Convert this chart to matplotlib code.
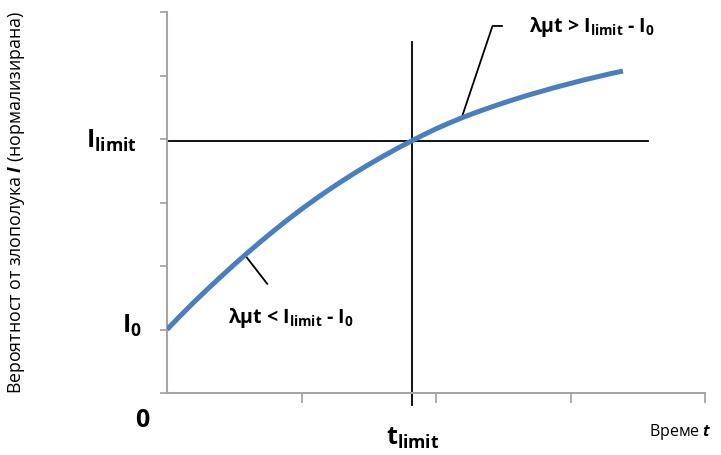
import matplotlib
matplotlib.use('Agg')
import matplotlib.pyplot as plt

# * Data
# curve sampled every 0.1 time units (x ticks = 1 unit, y ticks = 1 unit)
t_pts = [0.0, 0.1, 0.2, 0.3, 0.4, 0.5, 0.6, 0.7, 0.8, 0.9,
         1.0, 1.1, 1.2, 1.3, 1.4, 1.5, 1.6, 1.7, 1.8, 1.9,
         2.0, 2.1, 2.2, 2.3, 2.4, 2.5, 2.6, 2.7, 2.8, 2.9,
         3.0, 3.1, 3.2, 3.3, 3.39]
i_pts = [1.000, 1.218, 1.430, 1.633, 1.830, 2.023, 2.210, 2.390, 2.565, 2.733,
         2.895, 3.048, 3.195, 3.335, 3.470, 3.598, 3.720, 3.838, 3.950, 4.058,
         4.160, 4.253, 4.340, 4.420, 4.495, 4.567, 4.635, 4.700, 4.760, 4.820,
         4.875, 4.930, 4.980, 5.030, 5.070]
i_limit = 3.97
i_zero = 0.98
t_limit = 1.825
x_ticks = [1, 2, 3, 4]
y_ticks = [0, 1, 2, 3, 4, 5, 6]

# * Fonts
plt.rcParams['font.family'] = ['Open Sans', 'DejaVu Sans']
plt.rcParams['mathtext.fontset'] = 'custom'
plt.rcParams['mathtext.rm'] = 'Open Sans'
plt.rcParams['mathtext.it'] = 'Open Sans:italic'
plt.rcParams['mathtext.bf'] = 'Open Sans:bold'
plt.rcParams['mathtext.bfit'] = 'Open Sans:italic:bold'

fig = plt.figure(figsize=(7.21, 4.55), dpi=100)
ax = fig.add_axes([167/721, (455-393)/455, (705-167)/721, (393-12)/455])
ax.set_xlim(0, 4)
ax.set_ylim(0, 6)

# ** axes look
axcol = '#a6a6a6'
for s in ['top', 'right']:
    ax.spines[s].set_visible(False)
for s in ['left', 'bottom']:
    ax.spines[s].set_color(axcol)
    ax.spines[s].set_linewidth(1.5)
ax.set_xticks(x_ticks)
ax.set_yticks(y_ticks)
ax.tick_params(axis='x', direction='out', length=7, width=1.3, color=axcol,
               labelbottom=False)
ax.tick_params(axis='y', direction='out', length=5, width=1.3, color=axcol,
               labelleft=False)

# ** limit lines
ax.plot([0, 3.575], [i_limit, i_limit], color='black', lw=1.3)
ax.plot([t_limit, t_limit], [-0.19, 5.53], color='black', lw=1.3, clip_on=False)

# ** curve
ax.plot(t_pts, i_pts, color='#4a7ebf', lw=3.6, solid_capstyle='butt',
        solid_joinstyle='round', zorder=3)

# ** annotations
ax.plot([2.19, 2.42, 2.49], [4.33, 5.78, 5.78], color='black', lw=1.3)
ax.text(2.69, 5.76, r'λμt > I$_{\mathbf{limit}}$ - I$_{\mathbf{0}}$', fontsize=14,
        fontweight='bold', ha='left', va='center')
ax.plot([0.58, 0.745], [2.17, 1.72], color='black', lw=1.3)
ax.text(0.45, 1.18, r'λμt < I$_{\mathbf{limit}}$ - I$_{\mathbf{0}}$', fontsize=14,
        fontweight='bold', ha='left', va='center')

# ** labels
ax.text(-0.223, i_limit, r'I$_{\mathbf{limit}}$', fontsize=18, fontweight='bold',
        ha='right', va='center')
ax.text(-0.186, 1.05, r'I$_{\mathbf{0}}$', fontsize=18, fontweight='bold',
        ha='right', va='center')
ax.text(-0.186, -0.44, '0', fontsize=18, fontweight='bold', ha='center', va='center')
ax.text(t_limit, -0.71, r't$_{\mathbf{limit}}$', fontsize=18, fontweight='bold',
        ha='center', va='center')
ax.text(3.82, -0.61, r'Време $\boldsymbol{t}$', fontsize=11.5, ha='center', va='center')
fig.text(17/721, 1 - 203/455, r'Вероятност от злополука $\boldsymbol{I}$ (нормализирана)',
         fontsize=12.8, rotation=90, ha='center', va='center')

fig.savefig('out.png', dpi=100)
